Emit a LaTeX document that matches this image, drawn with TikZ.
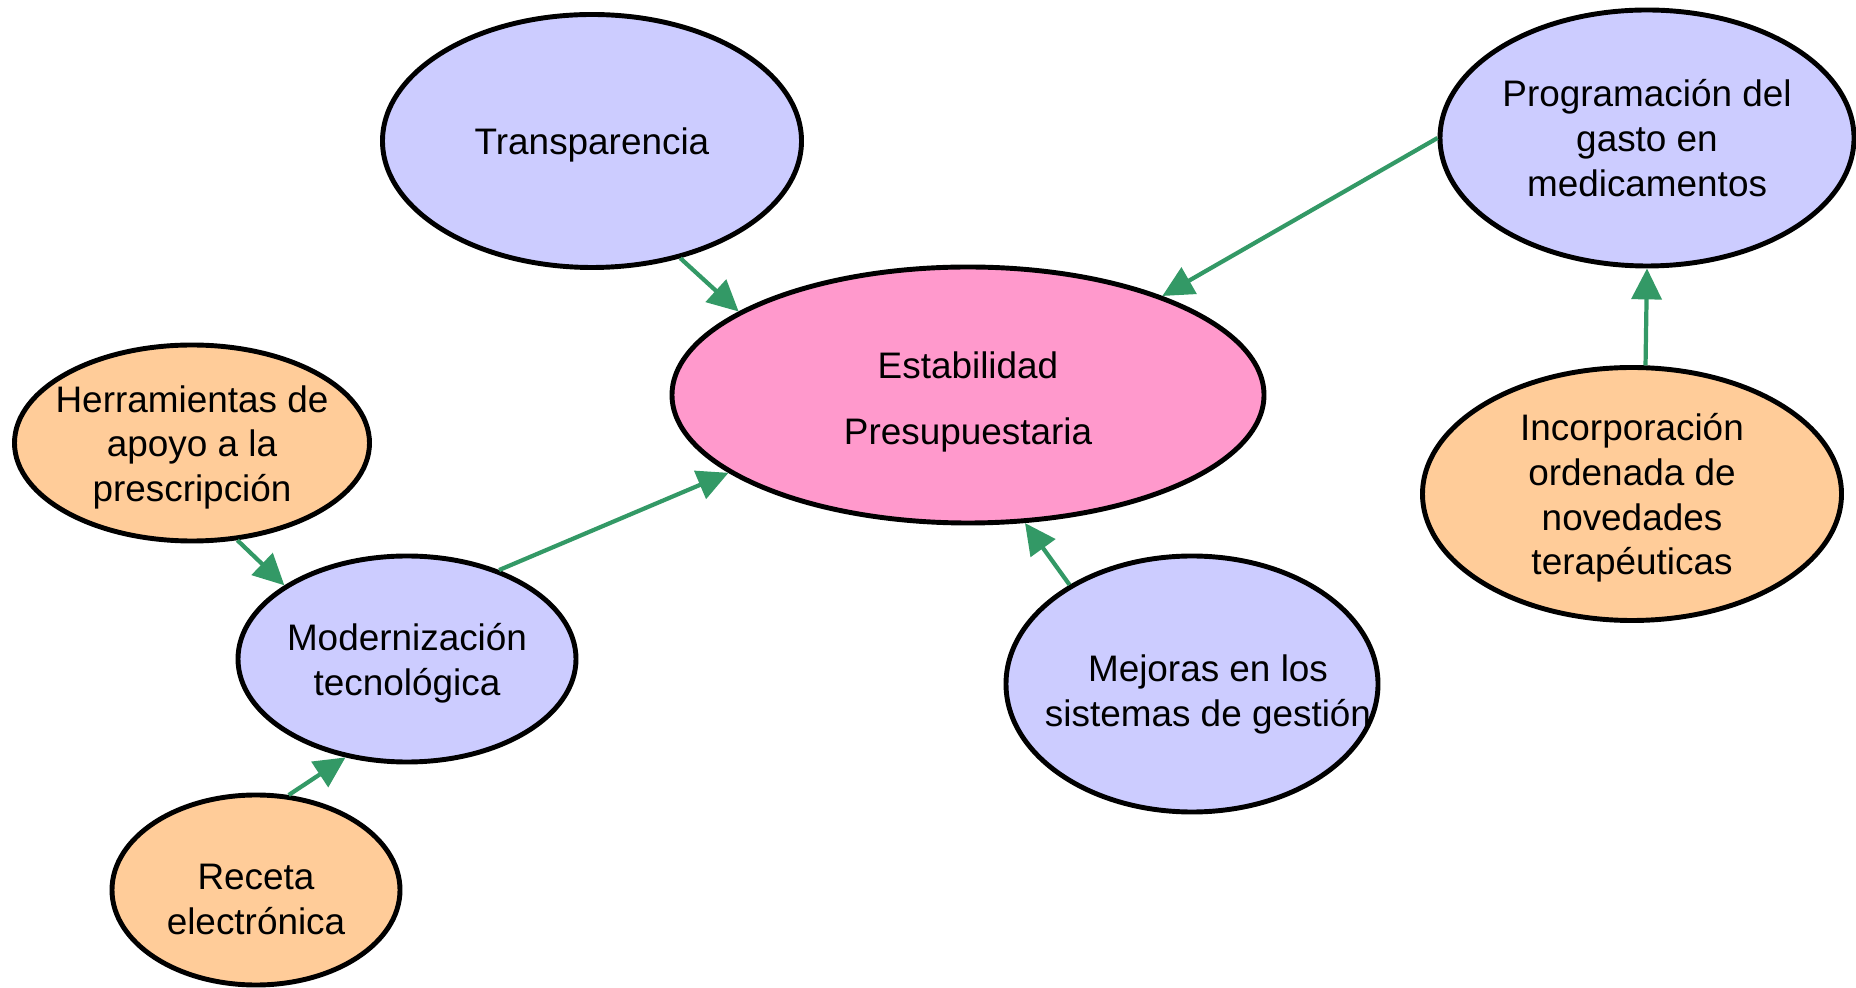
\documentclass[tikz,border=0pt]{standalone}
\usepackage{fontspec}
\setmainfont{Liberation Sans}
\usetikzlibrary{shapes.geometric,arrows.meta}
\definecolor{azul}{HTML}{CCCCFF}
\definecolor{rosa}{HTML}{FF99CC}
\definecolor{naranja}{HTML}{FFCC99}
\definecolor{verde}{HTML}{339966}
\newcommand{\alto}[1][10pt]{\rule{0pt}{#1}}
\begin{document}
\begin{tikzpicture}[
    caja/.style={ellipse, draw, line width=1.4pt, inner sep=-3cm, align=center,
        font=\fontsize{10.5}{12.7}\selectfont},
    flecha/.style={verde, line width=1.2pt, -{Triangle[length=8.8pt,width=8.5pt]}}]
    \useasboundingbox (0,0) rectangle (18.56,9.87);

    \node[caja, fill=rosa, minimum width=5.92cm, minimum height=2.56cm] (estab) at (9.68,5.92) {\alto[11.5pt]Estabilidad\\[6.2pt]Presupuestaria};
    \node[caja, fill=azul, minimum width=4.19cm, minimum height=2.53cm] (trans) at (5.92,8.46) {\alto Transparencia};
    \node[caja, fill=azul, minimum width=4.14cm, minimum height=2.56cm] (prog) at (16.47,8.49) {Programación del\\gasto en\\medicamentos};
    \node[caja, fill=naranja, minimum width=3.55cm, minimum height=1.96cm] (herr) at (1.92,5.44) {\alto Herramientas de\\apoyo a la\\prescripción};
    \node[caja, fill=azul, minimum width=3.38cm, minimum height=2.06cm] (modern) at (4.07,3.28) {\alto Modernización\\tecnológica};
    \node[caja, fill=naranja, minimum width=2.88cm, minimum height=1.90cm] (receta) at (2.56,0.97) {\alto[12.7pt]Receta\\electrónica};
    \node[caja, fill=azul, minimum width=3.72cm, minimum height=2.56cm] (mejoras) at (11.92,3.03) {\alto[13.5pt]\hspace*{0.32cm}Mejoras en los\\\hspace*{0.32cm}sistemas de gestión};
    \node[caja, fill=naranja, minimum width=4.19cm, minimum height=2.53cm] (incorp) at (16.32,4.93) {\alto Incorporación\\ordenada de\\novedades\\terapéuticas};

    \draw[flecha] (trans.-53) -- (estab.160);
    \draw[flecha] (prog.180) -- (estab.27);
    \draw[flecha] (modern.44) -- (estab.-162);
    \draw[flecha] (mejoras.141) -- (estab.-66);
    \draw[flecha] (incorp.84) -- (prog.-90);
    \draw[flecha] (herr.-65) -- (modern.149);
    \draw[flecha] (receta.71) -- (modern.-122);
\end{tikzpicture}
\end{document}
